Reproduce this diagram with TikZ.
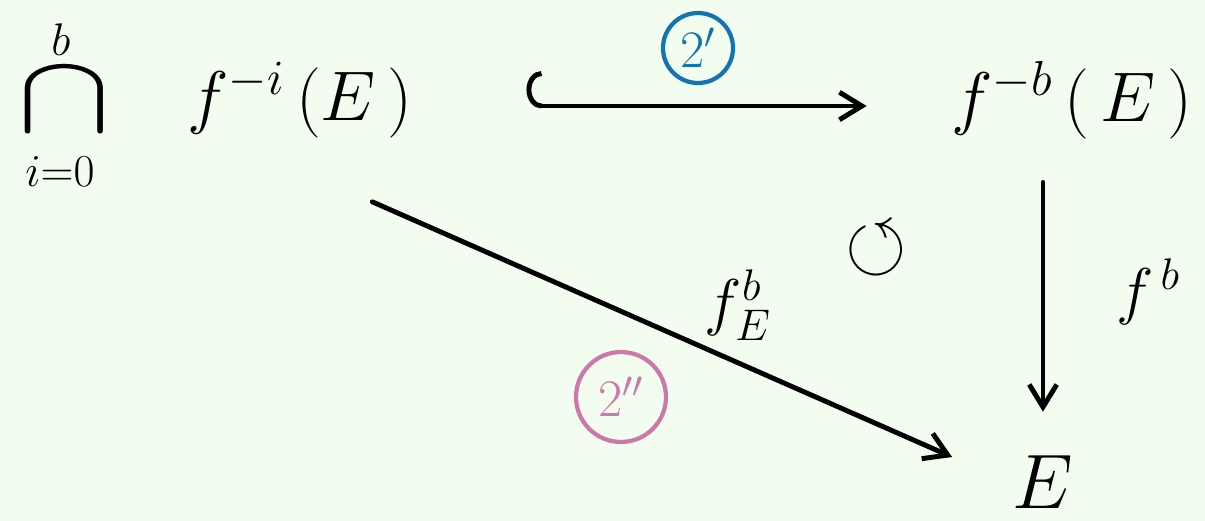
\RequirePackage{fix-cm}
\documentclass[tikz,border=0pt]{standalone}
\usepackage{amssymb}
\usepackage{graphicx}
\usetikzlibrary{arrows.meta,positioning}
\definecolor{DgBack}{RGB}{242,253,240}
\definecolor{DgBlue}{RGB}{20,115,180}
\definecolor{DgPink}{RGB}{205,120,168}
\newcommand{\dgbig}{\fontsize{40}{48}\selectfont}
\newcommand{\dgmid}{\fontsize{36}{42}\selectfont}
\newcommand{\dgtag}{\fontsize{30}{36}\selectfont}
\newcommand{\dgsmall}{\fontsize{26}{30}\selectfont}
\tikzset{
  dg/obj/.style={inner sep=2pt, font=\dgbig},
  dg/label/.style={inner sep=1pt, font=\dgmid},
  dg/limit/.style={inner sep=1pt, font=\dgsmall},
  dg/arrow/.style={-{Straight Barb[length=4.5mm,width=5.5mm]}, line width=2.8pt, line cap=round, draw=black},
  dg/hookarrow/.style={{Hooks[right,width=1.4cm,length=3mm]}-{Straight Barb[length=4.5mm,width=5.5mm]}, line width=2.8pt, line cap=round, draw=black},
  dg/tag/.style={circle, draw, line width=2.4pt, minimum size=1.4cm, inner sep=0pt, font=\dgtag}
}
\begin{document}
\begin{tikzpicture}[x=0.02cm,y=-0.02cm]
  \fill[DgBack] (0,0) rectangle (1205,521);
  \useasboundingbox (0,0) rectangle (1205,521);
  % big intersection
  \node[dg/obj, inner sep=0pt] (cap) at (64,100) {\scalebox{2.0}[1.6]{$\cap$}};
  \node[dg/limit] (capup) at (61,40) {$b$};
  \node[dg/limit] (caplow) at (60,172) {$i{=}0$};
  % objects
  \node[dg/obj] (inter) at (300,100) {$f^{-i}\,(E\,)$};
  \node[dg/obj] (pre) at (1072,100) {$f^{-b}\,(\,E\,)$};
  \node[dg/obj, font=\fontsize{44}{52}\selectfont] (base) at (1043,482) {$E$};
  % maps
  \draw[dg/hookarrow, shorten <=2.2cm, shorten >=1.62cm] ([yshift=-0.12cm]inter.east) -- ([yshift=-0.12cm]pre.west);
  \draw[dg/arrow, shorten <=0.8cm, shorten >=0.8cm] (pre.south -| base) -- (base);
  \draw[dg/arrow, shorten <=1.58cm, shorten >=1.24cm] ([yshift=-1.4cm]inter.center) -- (base.west);
  % labels
  \node[dg/label] (diaglab) at (738,305) {$f^{b}_{E}$};
  \node[dg/label] (vertlab) at (1148,292) {$f^{\,b}$};
  \node[dg/label] (comm) at (876,250) {\scalebox{1.25}{$\circlearrowleft$}};
  \node[dg/tag, draw=DgBlue, text=DgBlue] (tagtop) at (698,48) {$2'$};
  \node[dg/tag, draw=DgPink, text=DgPink, minimum size=1.8cm] (tagdiag) at (621,397) {$2''$};
\end{tikzpicture}
\end{document}
